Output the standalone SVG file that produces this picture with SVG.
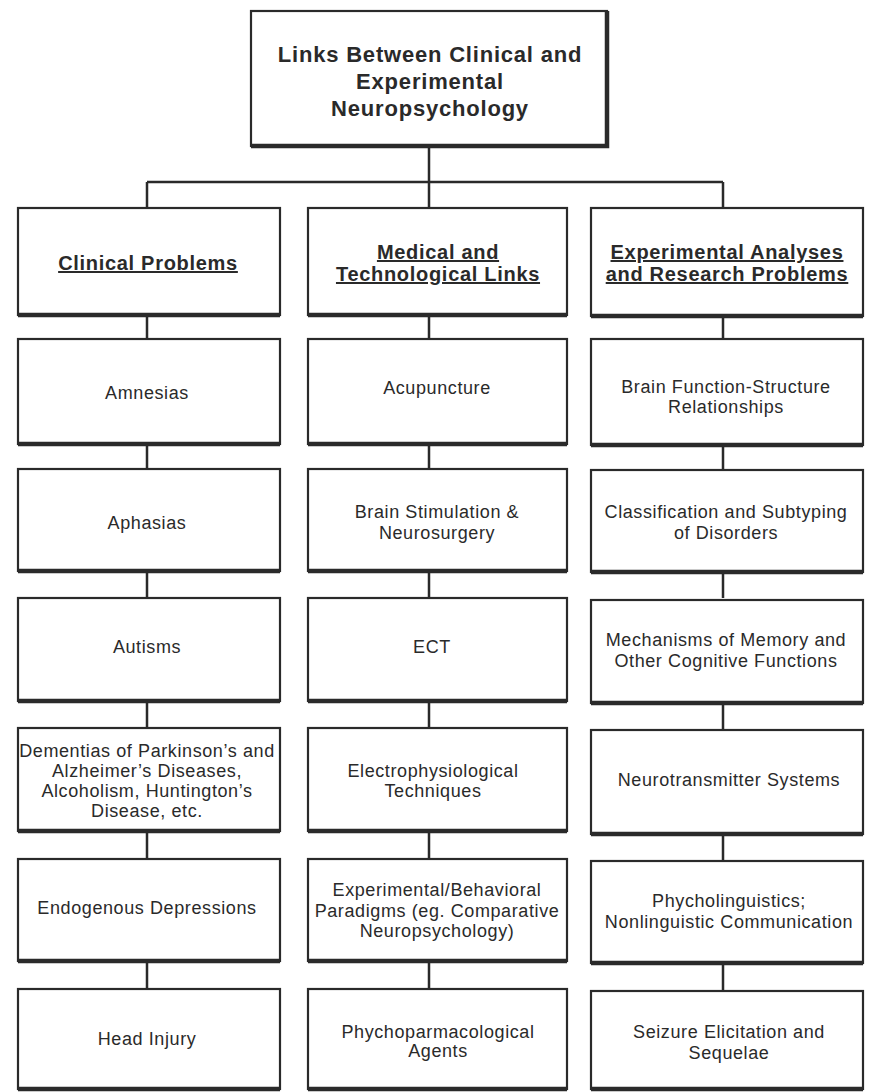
<svg xmlns="http://www.w3.org/2000/svg" width="871" height="1092" viewBox="0 0 871 1092">
<style>
.box{fill:#fff;stroke:#2a2a2a;stroke-width:2.2}
.sh{stroke:#2a2a2a;stroke-width:4.5;fill:none}
.ln{stroke:#2a2a2a;stroke-width:2.5;fill:none}
text{font-family:"Liberation Sans",Arial,sans-serif;fill:#2a2a2a;text-anchor:middle}
.t{font-size:18px;letter-spacing:0.6px}
.h{font-size:20px;font-weight:bold;letter-spacing:0.7px;text-decoration:underline}
.ti{font-size:22px;font-weight:bold;letter-spacing:0.8px}
</style>
<rect width="871" height="1092" fill="#fff"/>
<g id="connectors">
<path class="ln" d="M429 147V182M147 182H723M147 182V208M429 182V208M723 182V208"/>
<path class="ln" d="M147 316V339M147 445V469M147 572V598M147 702V728M147 832V859M147 962V989"/>
<path class="ln" d="M429 316V339M429 445V469M429 572V598M429 702V728M429 832V859M429 962V989"/>
<path class="ln" d="M723 316V339M723 445V469M723 572V598M723 704V730M723 834V861M723 964V991"/>
</g>
<g id="title"><rect class="box" x="251" y="11" width="356" height="135"/><path class="sh" d="M251 146H607V11"/>
<text class="ti" x="430" y="62">Links Between Clinical and</text><text class="ti" x="430" y="89">Experimental</text><text class="ti" x="430" y="116">Neuropsychology</text></g>

<g id="h1"><rect class="box" x="18" y="208" width="262" height="107"/><path class="sh" d="M18 315H280"/><text class="h" x="148" y="270">Clinical Problems</text></g>
<g id="h2"><rect class="box" x="308" y="208" width="259" height="107"/><path class="sh" d="M308 315H567"/><text class="h" x="438" y="259">Medical and</text><text class="h" x="438" y="281">Technological Links</text></g>
<g id="h3"><rect class="box" x="591" y="208" width="272" height="108"/><path class="sh" d="M591 316H863"/><text class="h" x="727" y="259">Experimental Analyses</text><text class="h" x="727" y="281">and Research Problems</text></g>

<g id="c1r1"><rect class="box" x="18" y="339" width="262" height="105"/><path class="sh" d="M18 444H280"/><text class="t" x="147" y="399">Amnesias</text></g>
<g id="c1r2"><rect class="box" x="18" y="469" width="262" height="102"/><path class="sh" d="M18 571H280"/><text class="t" x="147" y="529">Aphasias</text></g>
<g id="c1r3"><rect class="box" x="18" y="598" width="262" height="103"/><path class="sh" d="M18 701H280"/><text class="t" x="147" y="653">Autisms</text></g>
<g id="c1r4"><rect class="box" x="18" y="728" width="262" height="103"/><path class="sh" d="M18 831H280"/><text class="t" x="147" y="757">Dementias of Parkinson’s and</text><text class="t" x="147" y="777">Alzheimer’s Diseases,</text><text class="t" x="147" y="797">Alcoholism, Huntington’s</text><text class="t" x="147" y="817">Disease, etc.</text></g>
<g id="c1r5"><rect class="box" x="18" y="859" width="262" height="102"/><path class="sh" d="M18 961H280"/><text class="t" x="147" y="914">Endogenous Depressions</text></g>
<g id="c1r6"><rect class="box" x="18" y="989" width="262" height="100"/><path class="sh" d="M18 1089H280"/><text class="t" x="147" y="1045">Head Injury</text></g>

<g id="c2r1"><rect class="box" x="308" y="339" width="259" height="105"/><path class="sh" d="M308 444H567"/><text class="t" x="437" y="394">Acupuncture</text></g>
<g id="c2r2"><rect class="box" x="308" y="469" width="259" height="102"/><path class="sh" d="M308 571H567"/><text class="t" x="437" y="518">Brain Stimulation &amp;</text><text class="t" x="437" y="539">Neurosurgery</text></g>
<g id="c2r3"><rect class="box" x="308" y="598" width="259" height="103"/><path class="sh" d="M308 701H567"/><text class="t" x="432" y="653">ECT</text></g>
<g id="c2r4"><rect class="box" x="308" y="728" width="259" height="103"/><path class="sh" d="M308 831H567"/><text class="t" x="433" y="777">Electrophysiological</text><text class="t" x="433" y="797">Techniques</text></g>
<g id="c2r5"><rect class="box" x="308" y="859" width="259" height="102"/><path class="sh" d="M308 961H567"/><text class="t" x="437" y="896">Experimental/Behavioral</text><text class="t" x="437" y="917">Paradigms (eg. Comparative</text><text class="t" x="437" y="937">Neuropsychology)</text></g>
<g id="c2r6"><rect class="box" x="308" y="989" width="259" height="100"/><path class="sh" d="M308 1089H567"/><text class="t" x="438" y="1038">Phychoparmacological</text><text class="t" x="438" y="1057">Agents</text></g>

<g id="c3r1"><rect class="box" x="591" y="339" width="272" height="106"/><path class="sh" d="M591 445H863"/><text class="t" x="726" y="393">Brain Function-Structure</text><text class="t" x="726" y="413">Relationships</text></g>
<g id="c3r2"><rect class="box" x="591" y="470" width="272" height="102"/><path class="sh" d="M591 572H863"/><text class="t" x="726" y="518">Classification and Subtyping</text><text class="t" x="726" y="539">of Disorders</text></g>
<g id="c3r3"><rect class="box" x="591" y="600" width="272" height="103"/><path class="sh" d="M591 703H863"/><text class="t" x="726" y="646">Mechanisms of Memory and</text><text class="t" x="726" y="667">Other Cognitive Functions</text></g>
<g id="c3r4"><rect class="box" x="591" y="730" width="272" height="104"/><path class="sh" d="M591 834H863"/><text class="t" x="729" y="786">Neurotransmitter Systems</text></g>
<g id="c3r5"><rect class="box" x="591" y="861" width="272" height="102"/><path class="sh" d="M591 963H863"/><text class="t" x="729" y="907">Phycholinguistics;</text><text class="t" x="729" y="928">Nonlinguistic Communication</text></g>
<g id="c3r6"><rect class="box" x="591" y="991" width="272" height="98"/><path class="sh" d="M591 1089H863"/><text class="t" x="729" y="1038">Seizure Elicitation and</text><text class="t" x="729" y="1059">Sequelae</text></g>
</svg>
